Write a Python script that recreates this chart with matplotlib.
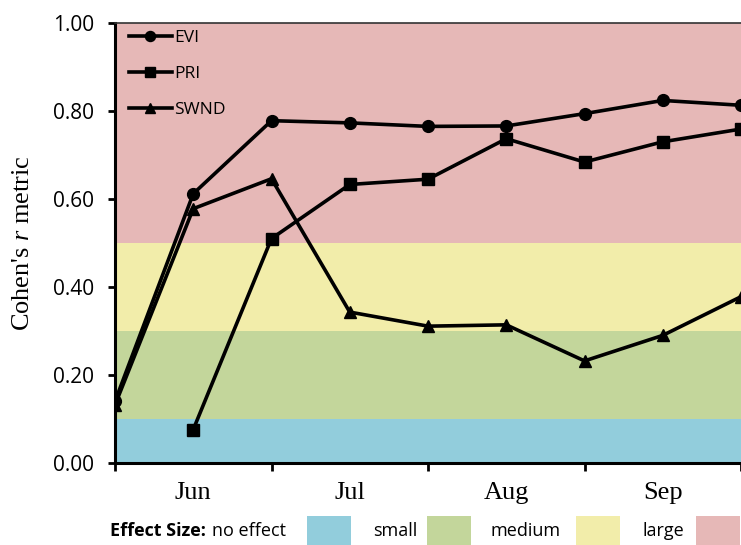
import numpy as np
import matplotlib
matplotlib.use('Agg')
import matplotlib.pyplot as plt
from matplotlib.patches import Rectangle

plt.rcParams['mathtext.fontset'] = 'custom'
plt.rcParams['mathtext.it'] = 'Liberation Serif:italic'
plt.rcParams['mathtext.rm'] = 'Liberation Serif'

# half-month steps from start of Jun to end of Sep
steps = np.arange(9)
evi = [0.140, 0.612, 0.778, 0.773, 0.765, 0.766, 0.794, 0.824, 0.813]
pri = [np.nan, 0.076, 0.510, 0.633, 0.645, 0.737, 0.684, 0.730, 0.759]
swnd = [0.132, 0.578, 0.646, 0.343, 0.311, 0.314, 0.232, 0.290, 0.378]

months = ['Jun', 'Jul', 'Aug', 'Sep']
month_pos = [1, 3, 5, 7]

effect_names = ['no effect', 'small', 'medium', 'large']
effect_bounds = [0.0, 0.1, 0.3, 0.5, 1.0]
effect_colors = ['#92CDDC', '#C3D69B', '#F2EDAA', '#E6B8B7']

W, H = 741, 545
fig = plt.figure(figsize=(W / 100, H / 100), dpi=100)
ax = fig.add_axes([115 / W, 82 / H, 626 / W, 440 / H])

for i in range(4):
    ax.axhspan(effect_bounds[i], effect_bounds[i + 1], color=effect_colors[i], lw=0, zorder=0)

ax.plot(steps, evi, color='black', lw=2.6, marker='o', ms=8.5, label='EVI')
ax.plot(steps, pri, color='black', lw=2.6, marker='s', ms=9, label='PRI')
ax.plot(steps, swnd, color='black', lw=2.6, marker='^', ms=9, label='SWND')

ax.set_xlim(0, 8)
ax.set_ylim(0, 1.0)

yt = np.arange(0, 1.01, 0.2)
ax.set_yticks(yt)
ax.set_yticklabels(['%.2f' % v for v in yt], fontsize=15, family='Open Sans')
ax.set_xticks([0, 2, 4, 6, 8])
ax.set_xticklabels([])
ax.set_xticks(month_pos, minor=True)
ax.set_xticklabels(months, minor=True, fontsize=19, family='Liberation Serif')
ax.tick_params(axis='x', which='minor', length=0, pad=14)
ax.tick_params(axis='x', which='major', length=5.5, width=2, direction='out')
ax.tick_params(axis='y', length=5, width=2, direction='out', pad=10)

ax.spines['left'].set_linewidth(2.2)
ax.spines['bottom'].set_linewidth(2.2)
ax.spines['top'].set_linewidth(1.2)
ax.spines['top'].set_color('#333333')
ax.spines['right'].set_visible(False)

ax.set_ylabel("Cohen's $\\mathit{r}$ metric", fontsize=19, family='Liberation Serif', labelpad=14)

leg = ax.legend(loc='upper left', bbox_to_anchor=(14 / 626, 1 - 7 / 440), frameon=False,
                handlelength=2.46, handletextpad=0.12, labelspacing=1.15,
                borderaxespad=0, borderpad=0, markerscale=0.85,
                prop={'family': 'Open Sans', 'size': 12.5})
leg.set_zorder(5)

# effect-size key under the chart
ky = (H - 531) / H
fig.text(110 / W, ky, 'Effect Size:', fontsize=13, fontweight='bold',
         family='Open Sans', va='center')
key_text_x = [212, 373, 490, 643]
key_box_x = [307, 427, 576, 696]
for name, tx, bx, col in zip(effect_names, key_text_x, key_box_x, effect_colors):
    fig.text(tx / W, ky, name, fontsize=13, family='Open Sans', va='center')
    fig.patches.append(Rectangle((bx / W, 0.0), 44 / W, 29 / H, transform=fig.transFigure,
                                 facecolor=col, edgecolor='none'))

plt.savefig('out.png', dpi=100)
